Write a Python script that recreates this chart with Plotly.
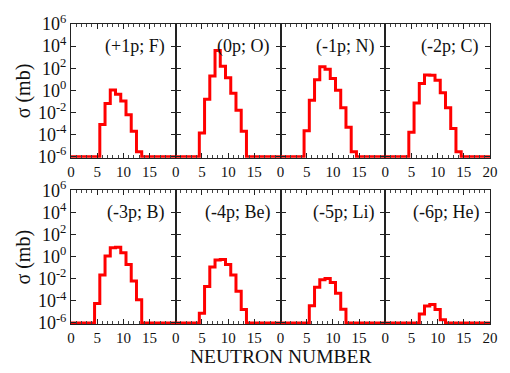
import plotly.graph_objects as go

neutron_number = list(range(0, 21))

panel_labels = ["(+1p; F)", "(0p; O)", "(-1p; N)", "(-2p; C)",
                "(-3p; B)", "(-4p; Be)", "(-5p; Li)", "(-6p; He)"]

# cross sections in mb, one value per neutron number 0..20
sigma_plus1p_F = [1e-6, 1e-6, 1e-6, 1e-6, 1e-6, 1e-6, 8e-4, 6.3e-2, 1.07, 0.45, 0.107,
                  6.3e-3, 2e-4, 2.8e-6, 1e-6, 1e-6, 1e-6, 1e-6, 1e-6, 1e-6, 1e-6]
sigma_0p_O = [1e-6, 1e-6, 1e-6, 1e-6, 1e-6, 1.4e-4, 0.16, 20, 4000, 155, 14,
              0.56, 1.6e-2, 2e-4, 1e-6, 1e-6, 1e-6, 1e-6, 1e-6, 1e-6, 1e-6]
sigma_m1p_N = [1e-6, 1e-6, 1e-6, 1e-6, 1e-6, 2.2e-4, 0.126, 8.9, 135, 79, 12,
               1.0, 2.6e-2, 4.5e-4, 2.75e-6, 1e-6, 1e-6, 1e-6, 1e-6, 1e-6, 1e-6]
sigma_m2p_C = [1e-6, 1e-6, 1e-6, 1e-6, 1e-6, 1.66e-4, 7.2e-2, 4.2, 25, 23, 8.1,
               0.6, 2.6e-2, 3.5e-4, 2.8e-6, 1e-6, 1e-6, 1e-6, 1e-6, 1e-6, 1e-6]
sigma_m3p_B = [1e-6, 1e-6, 1e-6, 1e-6, 1e-6, 5.6e-5, 2.1e-2, 1.15, 6.3, 7.1, 2.2,
               0.19, 6.3e-3, 1.26e-4, 1e-6, 1e-6, 1e-6, 1e-6, 1e-6, 1e-6, 1e-6]
sigma_m4p_Be = [1e-6, 1e-6, 1e-6, 1e-6, 1e-6, 7.6e-6, 1.95e-3, 0.115, 0.48, 0.54, 0.195,
                2.1e-2, 7.2e-4, 1.6e-5, 1e-6, 1e-6, 1e-6, 1e-6, 1e-6, 1e-6, 1e-6]
sigma_m5p_Li = [1e-6, 1e-6, 1e-6, 1e-6, 1e-6, 1e-6, 3.5e-5, 1.66e-3, 7.9e-3, 1.05e-2, 4.5e-3,
                4.8e-4, 1.7e-5, 1e-6, 1e-6, 1e-6, 1e-6, 1e-6, 1e-6, 1e-6, 1e-6]
sigma_m6p_He = [1e-6, 1e-6, 1e-6, 1e-6, 1e-6, 1e-6, 1e-6, 6.3e-6, 3.4e-5, 4.7e-5, 1.6e-5,
                1.95e-6, 1e-6, 1e-6, 1e-6, 1e-6, 1e-6, 1e-6, 1e-6, 1e-6, 1e-6]

all_sigma = [sigma_plus1p_F, sigma_0p_O, sigma_m1p_N, sigma_m2p_C,
             sigma_m3p_B, sigma_m4p_Be, sigma_m5p_Li, sigma_m6p_He]

y_tickvals = [1e-6, 1e-4, 1e-2, 1e0, 1e2, 1e4, 1e6]
y_ticktext = ["10<sup>-6</sup>", "10<sup>-4</sup>", "10<sup>-2</sup>", "10<sup>0</sup>",
              "10<sup>2</sup>", "10<sup>4</sup>", "10<sup>6</sup>"]
x_tickvals = [0, 5, 10, 15, 20]

FONT = "Liberation Serif, Times New Roman, Times, serif"
W, H = 510, 373
ml, mr, mt, mb = 71, 16, 19, 49

fig = go.Figure()
layout = {}
annotations = []
row_domains = [[0.554, 1.0], [0.0, 0.446]]

for i, (lab, ys) in enumerate(zip(panel_labels, all_sigma)):
    n = i + 1
    r, c = divmod(i, 4)
    xs = "" if n == 1 else str(n)
    fig.add_trace(go.Scatter(
        x=neutron_number, y=ys, mode="lines", line_shape="hvh",
        line=dict(color="#ff0000", width=3), xaxis="x" + xs, yaxis="y" + xs,
        showlegend=False, hoverinfo="skip"))
    last = (c == 3)
    layout["xaxis" + xs] = dict(
        domain=[c / 4, (c + 1) / 4], anchor="y" + xs, range=[0, 20],
        tickvals=x_tickvals,
        ticktext=["0", "5", "10", "15", "20" if last else ""],
        ticks="inside", ticklen=5, tickwidth=1, tickcolor="#222",
        minor=dict(dtick=1, ticks="inside", ticklen=3, tickwidth=1, tickcolor="#444"),
        showline=True, linecolor="#222", linewidth=1, mirror="ticks",
        showgrid=False, zeroline=False,
        tickfont=dict(family=FONT, size=15, color="#111"))
    layout["yaxis" + xs] = dict(
        domain=row_domains[r], anchor="x" + xs, type="log", range=[-6.1, 6],
        tickvals=y_tickvals, ticktext=y_ticktext, showticklabels=(c == 0),
        ticks="inside", ticklen=5, tickwidth=1, tickcolor="#222",
        showline=True, linecolor="#222", linewidth=1, mirror="ticks",
        showgrid=False, zeroline=False,
        tickfont=dict(family=FONT, size=18, color="#111"))
    annotations.append(dict(
        text=lab, xref="x" + xs + " domain", yref="y" + xs, x=1, y=4,
        xanchor="right", yanchor="middle", xshift=-9, showarrow=False,
        font=dict(family=FONT, size=18, color="#111")))

pw = W - ml - mr
ph = H - mt - mb
for yc in [(324 - 87) / ph, (324 - 256) / ph]:
    annotations.append(dict(
        text="σ (mb)", xref="paper", yref="paper", x=(23 - ml) / pw, y=yc,
        xanchor="center", yanchor="middle", textangle=-90, showarrow=False,
        font=dict(family=FONT, size=20, color="#111")))
annotations.append(dict(
    text="NEUTRON NUMBER", xref="paper", yref="paper", x=0.5, y=(324 - 357) / ph,
    xanchor="center", yanchor="middle", showarrow=False,
    font=dict(family=FONT, size=19.5, color="#111")))

fig.update_layout(
    width=W, height=H, margin=dict(l=ml, r=mr, t=mt, b=mb),
    paper_bgcolor="white", plot_bgcolor="white",
    font=dict(family=FONT),
    annotations=annotations, **layout)

fig.write_html("out.html")
